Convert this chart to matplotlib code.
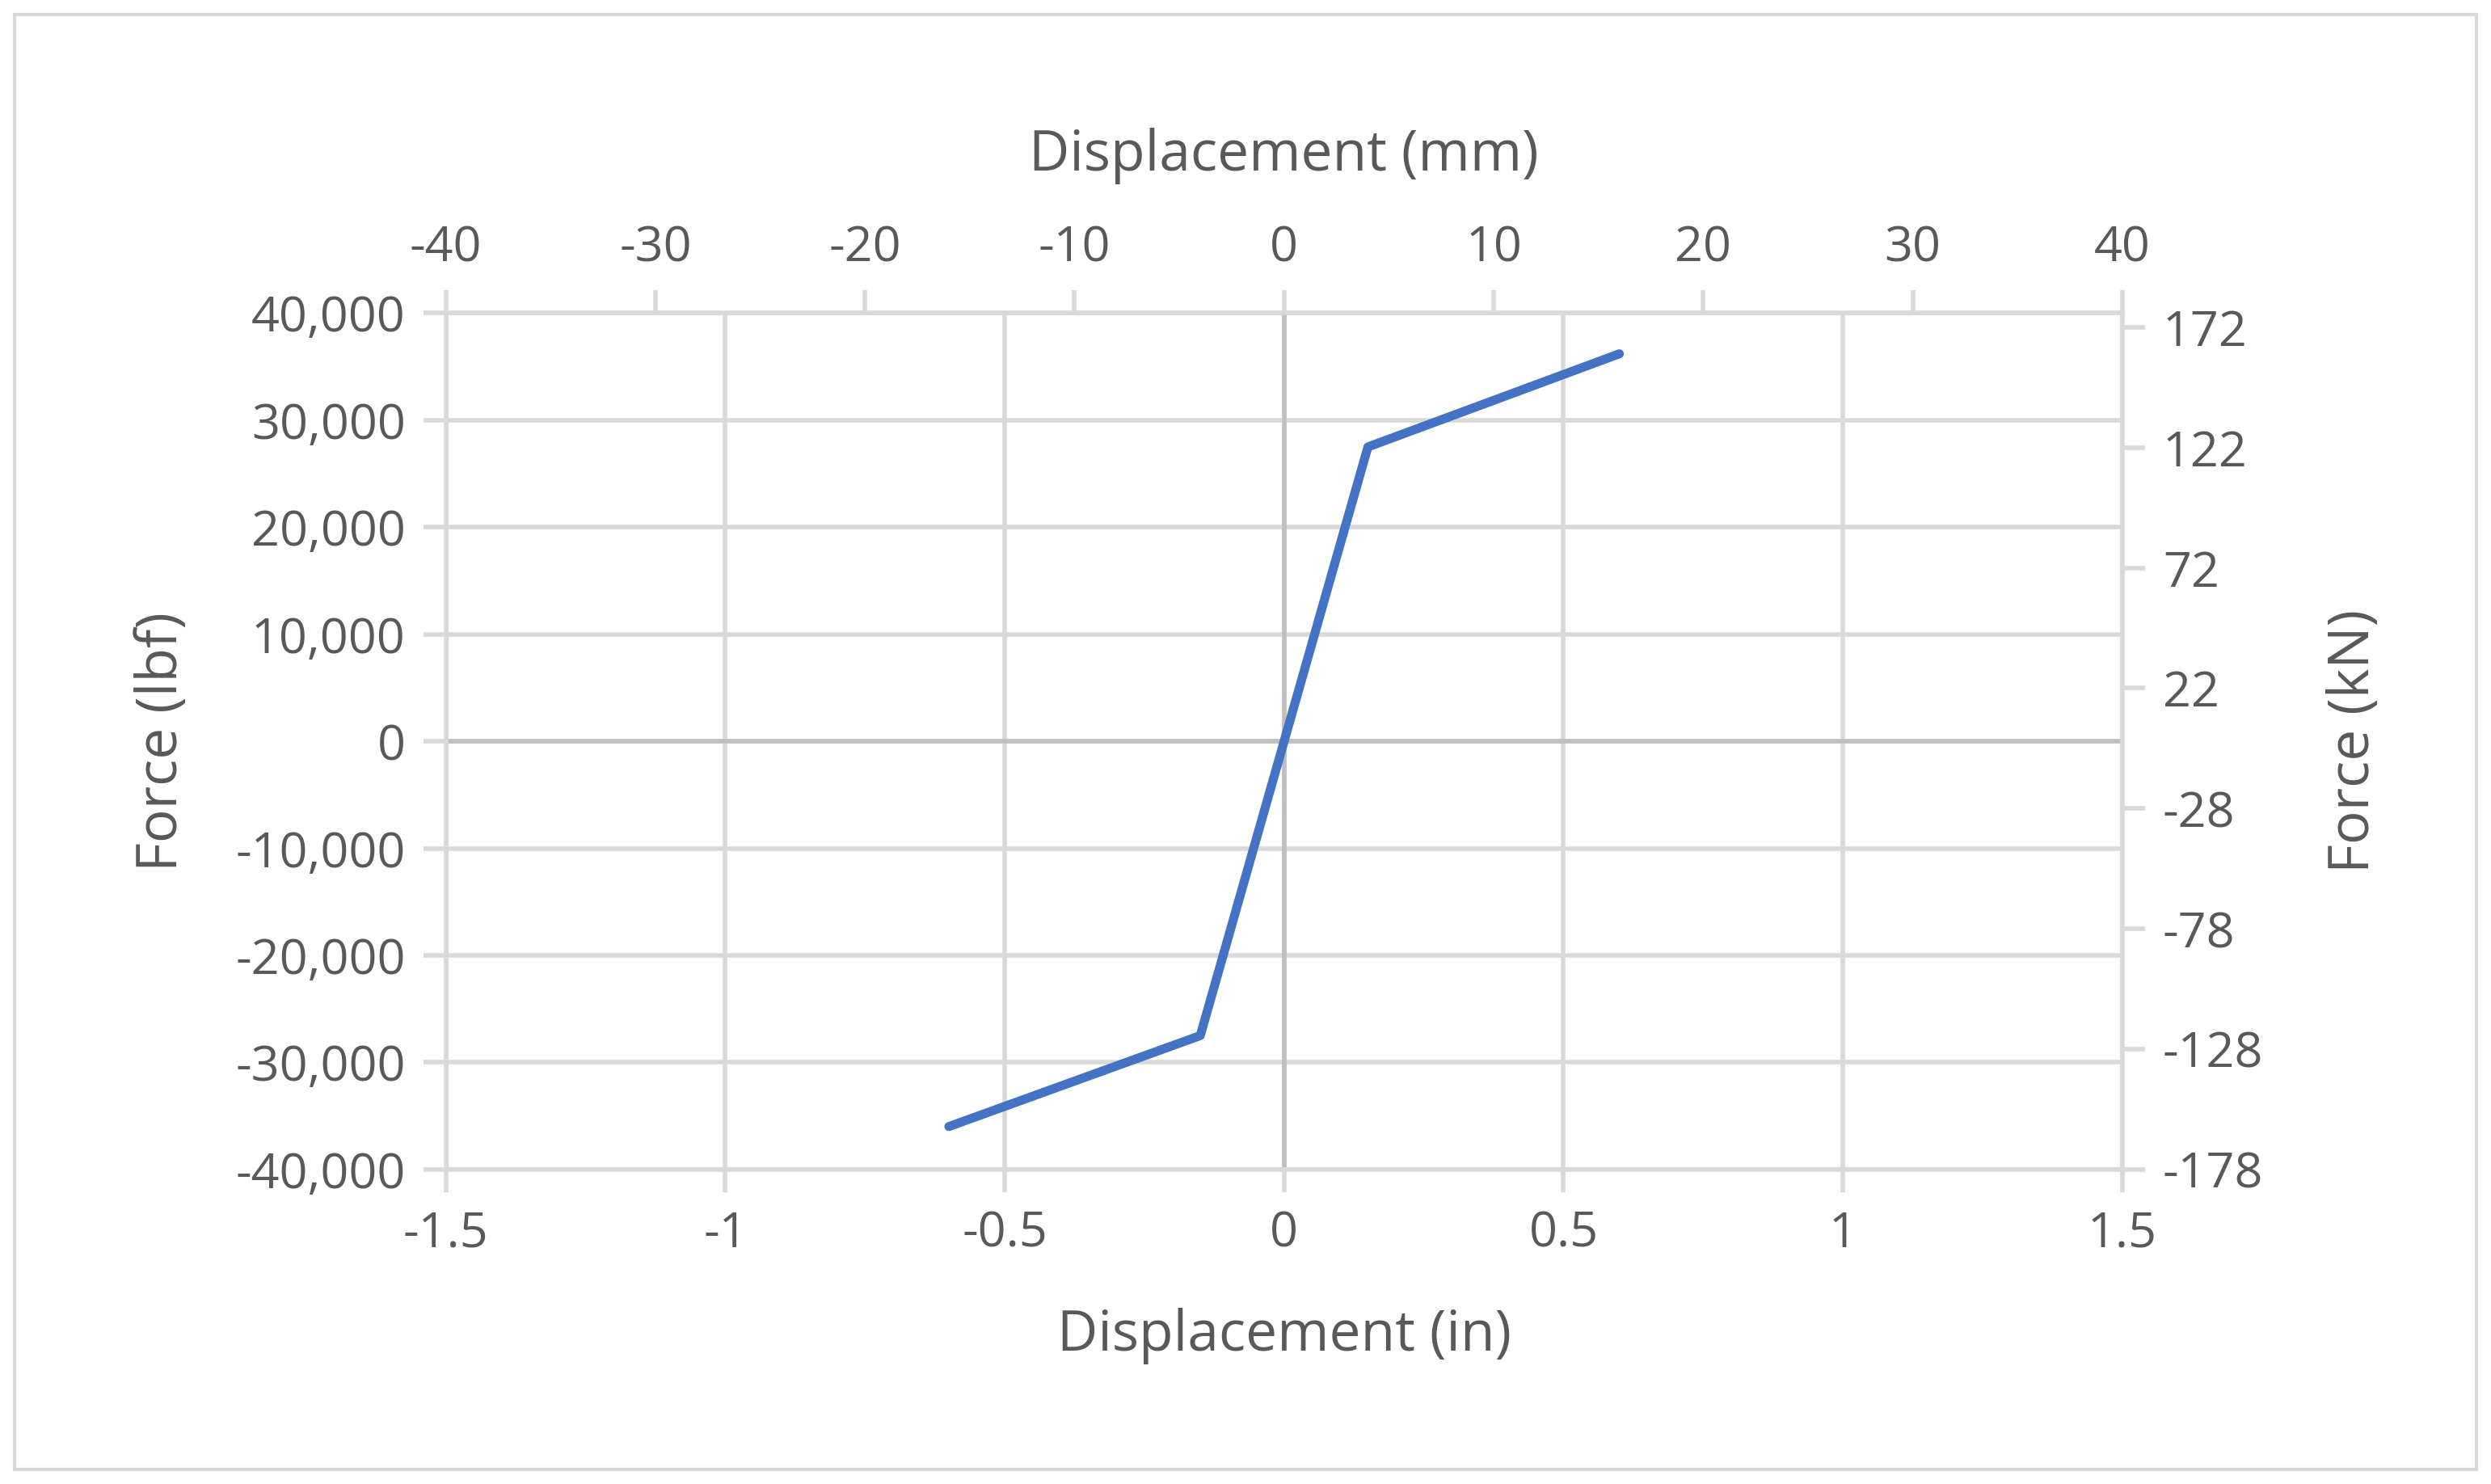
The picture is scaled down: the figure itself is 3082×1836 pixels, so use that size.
import matplotlib
matplotlib.use("Agg")
import matplotlib.pyplot as plt
from matplotlib.patches import Rectangle

disp_in = [-0.6, -0.15, 0.0, 0.15, 0.6]
force_lbf = [-36000, -27500, 0, 27500, 36200]
x_ticks = [-1.5, -1, -0.5, 0, 0.5, 1, 1.5]
x_tick_labels = ["-1.5", "-1", "-0.5", "0", "0.5", "1", "1.5"]
y_ticks = [-40000, -30000, -20000, -10000, 0, 10000, 20000, 30000, 40000]
mm_ticks = [-40, -30, -20, -10, 0, 10, 20, 30, 40]
kn_ticks = [-178, -128, -78, -28, 22, 72, 122, 172]

plt.rcParams['font.family'] = ['Open Sans', 'DejaVu Sans']
txt = '#595959'
grid = '#d9d9d9'
fig = plt.figure(figsize=(15.41, 9.18), dpi=200)
fig.patches.append(Rectangle((0.006, 0.01), 0.988, 0.98, transform=fig.transFigure,
                             fill=False, edgecolor=grid, lw=1.5))
ax = fig.add_axes([0.179, 0.212, 0.673, 0.577])
ax.plot(disp_in, force_lbf, color='#4472c4', lw=4, solid_capstyle='round', zorder=3)
ax.set_xlim(-1.5, 1.5)
ax.set_ylim(-40000, 40000)
ax.set_xticks(x_ticks)
ax.set_xticklabels(x_tick_labels)
ax.set_yticks(y_ticks)
ax.set_yticklabels([f"{v:,}" for v in y_ticks])
ax.grid(True, color=grid, lw=2)
ax.axhline(0, color='#bfbfbf', lw=2, zorder=2)
ax.axvline(0, color='#bfbfbf', lw=2, zorder=2)
for s in ax.spines.values():
    s.set_color(grid); s.set_linewidth(2)
ax.tick_params(colors=grid, labelcolor=txt, labelsize=22, length=10, width=2, pad=8)
ax.set_xlabel("Displacement (in)", color=txt, fontsize=25, labelpad=22)
ax.set_ylabel("Force (lbf)", color=txt, fontsize=25, labelpad=20)

axt = ax.twiny()
axt.set_xlim(-40, 40)
axt.set_xticks(mm_ticks)
axt.set_xticklabels([str(v) for v in mm_ticks])
axt.tick_params(colors=grid, labelcolor=txt, labelsize=22, length=10, width=2, pad=8)
axt.set_xlabel("Displacement (mm)", color=txt, fontsize=25, labelpad=24)
for s in axt.spines.values():
    s.set_visible(False)

axr = ax.twinx()
axr.set_ylim(-177.93, 177.93)
axr.set_yticks(kn_ticks)
axr.set_yticklabels([str(v) for v in kn_ticks])
axr.tick_params(colors=grid, labelcolor=txt, labelsize=22, length=10, width=2, pad=8)
axr.set_ylabel("Force (kN)", color=txt, fontsize=25, labelpad=28)
for s in axr.spines.values():
    s.set_visible(False)

fig.savefig("out.png", dpi=200)
